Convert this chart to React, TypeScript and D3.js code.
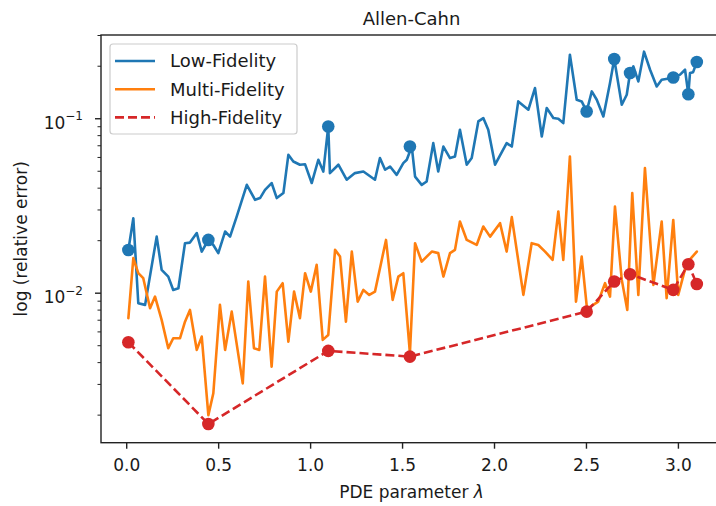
import { useEffect } from "react";
import * as d3 from "d3";

// low-fidelity error along lambda (blue)
const lowLambda = [
  0.009, 0.036, 0.063, 0.1, 0.163, 0.19, 0.226, 0.253, 0.281, 0.317, 0.344, 0.381, 0.408, 0.444,
  0.471, 0.498, 0.535, 0.562, 0.598, 0.653, 0.698, 0.725, 0.752, 0.788, 0.816, 0.852, 0.879, 0.906,
  0.942, 0.97, 1.006, 1.042, 1.069, 1.096, 1.105, 1.151, 1.196, 1.241, 1.287, 1.35, 1.377, 1.405,
  1.432, 1.468, 1.504, 1.523, 1.55, 1.568, 1.604, 1.631, 1.667, 1.694, 1.722, 1.758, 1.785, 1.812,
  1.849, 1.876, 1.912, 1.939, 1.966, 2.003, 2.066, 2.094, 2.129, 2.184, 2.22, 2.257, 2.284, 2.32,
  2.347, 2.374, 2.41, 2.447, 2.474, 2.501, 2.529, 2.556, 2.592, 2.628, 2.651, 2.692, 2.719, 2.737,
  2.755, 2.782, 2.813, 2.846, 2.882, 2.909, 2.972, 3.009, 3.036, 3.054, 3.063, 3.08, 3.1,
];
const lowError = [
  0.0177, 0.0269, 0.00876, 0.00857, 0.0211, 0.0136, 0.01245, 0.01044, 0.01068, 0.01935, 0.0195,
  0.0221, 0.01732, 0.0202, 0.0189, 0.01697, 0.02257, 0.0211, 0.0275, 0.0418, 0.0343, 0.0351, 0.0391,
  0.0428, 0.0351, 0.0375, 0.0621, 0.0569, 0.0545, 0.0548, 0.0428, 0.0582, 0.0498, 0.0903, 0.0488,
  0.0545, 0.0447, 0.0488, 0.0498, 0.0447, 0.0595, 0.051, 0.0532, 0.0477, 0.0557, 0.0582, 0.0693,
  0.0466, 0.0418, 0.0437, 0.0725, 0.0498, 0.0693, 0.0595, 0.0608, 0.0865, 0.0545, 0.0595, 0.0965,
  0.1009, 0.0865, 0.0545, 0.0725, 0.0693, 0.1257, 0.1126, 0.15, 0.0791, 0.1151, 0.1009, 0.1,
  0.0945, 0.2329, 0.1285, 0.1257, 0.1101, 0.1434, 0.1285, 0.1031, 0.1602, 0.2201, 0.1203, 0.1373,
  0.1829, 0.1995, 0.1637, 0.2423, 0.191, 0.1532, 0.1674, 0.1719, 0.1789, 0.191, 0.1382, 0.1829,
  0.185, 0.2115,
];

// multi-fidelity error along lambda (orange)
const multiLambda = [
  0.009, 0.036, 0.063, 0.09, 0.127, 0.154, 0.19, 0.226, 0.253, 0.29, 0.317, 0.344, 0.381, 0.408,
  0.444, 0.471, 0.507, 0.535, 0.571, 0.631, 0.661, 0.692, 0.721, 0.752, 0.788, 0.816, 0.848, 0.879,
  0.91, 0.942, 0.97, 1.001, 1.033, 1.066, 1.096, 1.133, 1.16, 1.192, 1.224, 1.256, 1.287, 1.319,
  1.35, 1.383, 1.41, 1.446, 1.477, 1.504, 1.54, 1.568, 1.604, 1.659, 1.694, 1.722, 1.758, 1.785,
  1.812, 1.849, 1.903, 1.939, 1.976, 2.03, 2.066, 2.094, 2.157, 2.202, 2.238, 2.275, 2.316, 2.347,
  2.374, 2.41, 2.443, 2.474, 2.503, 2.564, 2.601, 2.628, 2.655, 2.692, 2.722, 2.749, 2.782, 2.818,
  2.864, 2.909, 2.936, 2.972, 2.999, 3.045, 3.1,
];
const multiError = [
  0.00719, 0.01588, 0.01302, 0.01219, 0.0082, 0.00956, 0.00703, 0.00484, 0.00552, 0.00552, 0.00687,
  0.00802, 0.00473, 0.00564, 0.002, 0.00267, 0.00857, 0.00473, 0.00784, 0.00304, 0.01165, 0.00484,
  0.00473, 0.01245, 0.00379, 0.01021, 0.01141, 0.00528, 0.01021, 0.00719, 0.01302, 0.01021, 0.01453,
  0.0054, 0.00576, 0.01771, 0.01622, 0.00687, 0.01732, 0.00895, 0.01044, 0.00978, 0.01021, 0.01486,
  0.0202, 0.00915, 0.01245, 0.01302, 0.00453, 0.01935, 0.01518, 0.01732, 0.01697, 0.01245, 0.01697,
  0.01771, 0.02574, 0.0202, 0.0189, 0.0241, 0.0211, 0.0252, 0.01732, 0.0273, 0.00978, 0.01935,
  0.0189, 0.01732, 0.01552, 0.0294, 0.01552, 0.0608, 0.00895, 0.01622, 0.00813, 0.00895, 0.01141,
  0.00956, 0.0314, 0.01192, 0.00802, 0.0375, 0.00978, 0.0521, 0.01116, 0.02574, 0.00936, 0.0263,
  0.00978, 0.01486, 0.01732,
];

// training points
const trainLambda = [0.009, 0.444, 1.096, 1.54, 2.501, 2.651, 2.737, 2.972, 3.054, 3.1];
const lowTrainError = [0.0177, 0.0202, 0.0903, 0.0693, 0.1101, 0.2201, 0.1829, 0.1725, 0.1382, 0.2115];
const highTrainError = [0.00523, 0.00178, 0.00467, 0.00433, 0.00784, 0.01167, 0.01285, 0.01045, 0.01466, 0.0113];

const xTicks = [0, 0.5, 1, 1.5, 2, 2.5, 3];
const yMajor = [0.01, 0.1];
const yMinor = [0.002, 0.003, 0.004, 0.005, 0.006, 0.007, 0.008, 0.009, 0.02, 0.03, 0.04, 0.05, 0.06, 0.07, 0.08, 0.09, 0.2, 0.3];

const legendItems = [
  { label: "Low-Fidelity", color: "#1f77b4", dash: "" },
  { label: "Multi-Fidelity", color: "#ff7f0e", dash: "" },
  { label: "High-Fidelity", color: "#d62728", dash: "9,4" },
];

const W = 716;
const H = 506;
const left = 101;
const right = 722;
const top = 35;
const bottom = 442.7;
const font = "DejaVu Sans, sans-serif";
const ink = "#1a1a1a";

export default function App() {
  useEffect(() => {
    document.body.style.margin = "0";
  }, []);

  const x = d3.scaleLinear().domain([-0.1398, 3.237]).range([left, right]);
  const y = d3.scaleLog().domain([0.00139, 0.302]).range([bottom, top]);

  const line = d3
    .line<[number, number]>()
    .x((d) => x(d[0]))
    .y((d) => y(d[1]));

  const lowPts = lowLambda.map((l, i) => [l, lowError[i]] as [number, number]);
  const multiPts = multiLambda.map((l, i) => [l, multiError[i]] as [number, number]);
  const highPts = trainLambda.map((l, i) => [l, highTrainError[i]] as [number, number]);

  return (
    <svg width={W} height={H} style={{ position: "absolute", left: 0, top: 0, background: "#fff" }}>
      <defs>
        <clipPath id="plot">
          <rect x={left} y={top} width={right - left} height={bottom - top} />
        </clipPath>
      </defs>

      <text x={(left + right) / 2} y={25} textAnchor="middle" fontFamily={font} fontSize={18} fill={ink}>
        Allen-Cahn
      </text>

      <g clipPath="url(#plot)" fill="none" strokeLinejoin="round" strokeLinecap="round">
        <path d={line(lowPts) ?? ""} stroke="#1f77b4" strokeWidth={2.6} />
        <path d={line(multiPts) ?? ""} stroke="#ff7f0e" strokeWidth={2.6} />
        <path d={line(highPts) ?? ""} stroke="#d62728" strokeWidth={2.6} strokeDasharray="9,4" strokeLinecap="butt" />
        {trainLambda.map((l, i) => (
          <circle key={"b" + i} cx={x(l)} cy={y(lowTrainError[i])} r={6.3} fill="#1f77b4" stroke="none" />
        ))}
        {trainLambda.map((l, i) => (
          <circle key={"r" + i} cx={x(l)} cy={y(highTrainError[i])} r={6.3} fill="#d62728" stroke="none" />
        ))}
      </g>

      {/* spines */}
      <rect x={left} y={top} width={right - left} height={bottom - top} fill="none" stroke="#222" strokeWidth={1.4} />

      {/* x axis */}
      {xTicks.map((t) => (
        <g key={t}>
          <line x1={x(t)} x2={x(t)} y1={bottom} y2={bottom + 6} stroke="#222" strokeWidth={1.4} />
          <text x={x(t)} y={471} textAnchor="middle" fontFamily={font} fontSize={17} fill={ink}>
            {t.toFixed(1)}
          </text>
        </g>
      ))}
      <text x={(left + right) / 2} y={498} textAnchor="middle" fontFamily={font} fontSize={17} fill={ink}>
        PDE parameter <tspan fontStyle="italic">λ</tspan>
      </text>

      {/* y axis */}
      {yMinor.map((t) => (
        <line key={t} x1={left - 3.5} x2={left} y1={y(t)} y2={y(t)} stroke="#222" strokeWidth={1} />
      ))}
      {yMajor.map((t) => (
        <g key={t}>
          <line x1={left - 6} x2={left} y1={y(t)} y2={y(t)} stroke="#222" strokeWidth={1.4} />
          <text x={83} y={y(t) + 10} textAnchor="end" fontFamily={font} fontSize={17} fill={ink}>
            10
            <tspan fontSize={12} dy={-8.5}>
              {"\u2212" + Math.round(-Math.log10(t))}
            </tspan>
          </text>
        </g>
      ))}
      <text
        transform={`translate(27,${(top + bottom) / 2}) rotate(-90)`}
        textAnchor="middle"
        fontFamily={font}
        fontSize={17}
        fill={ink}
      >
        log (relative error)
      </text>

      {/* legend */}
      <rect x={110} y={44} width={187} height={90} rx={3} fill="#fff" fillOpacity={0.8} stroke="#ccc" strokeWidth={1.2} />
      {legendItems.map((d, i) => {
        const cy = 61 + i * 28.2;
        return (
          <g key={d.label}>
            <line x1={115} x2={155} y1={cy} y2={cy} stroke={d.color} strokeWidth={2.6} strokeDasharray={d.dash} />
            <text x={170} y={cy + 6.3} fontFamily={font} fontSize={18} fill={ink}>
              {d.label}
            </text>
          </g>
        );
      })}
    </svg>
  );
}
